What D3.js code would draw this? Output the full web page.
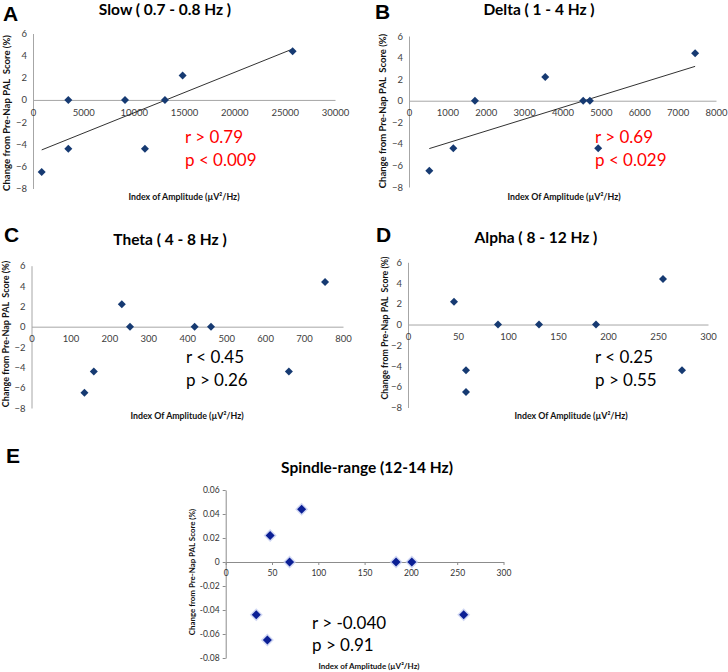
<!DOCTYPE html>
<html><head><meta charset="utf-8">
<script src="https://cdn.jsdelivr.net/npm/d3@7"></script>
<style>
html,body{margin:0;padding:0;background:#fff;}
svg{display:block;}
text{white-space:pre;}
</style></head>
<body>
<svg id="chart" width="728" height="672"></svg>
<script>
// ---------- data ----------
const slowX  = [864, 3510, 3510, 9136, 11122, 13108, 14866, 25790];
const slowY  = [-6.5, -4.4, 0, 0, -4.4, 0, 2.2, 4.4];
const deltaX = [529, 1154, 1719, 3550, 4539, 4714, 4930, 7456];
const deltaY = [-6.5, -4.4, 0, 2.2, 0, 0, -4.4, 4.4];
const thetaX = [136, 160, 232, 253, 419, 461, 661, 754];
const thetaY = [-6.5, -4.4, 2.2, 0, 0, 0, -4.4, 4.4];
const alphaX = [46, 58, 58, 90, 131, 188, 255, 274];
const alphaY = [2.2, -4.4, -6.5, 0, 0, 0, 4.4, -4.4];
const spindleX = [33, 45, 48, 69, 82, 184, 201, 257];
const spindleY = [-0.044, -0.065, 0.022, 0, 0.044, 0, 0, -0.044];

const yTicksPct = [-8, -6, -4, -2, 0, 2, 4, 6];
const slowTicks = [0, 5000, 10000, 15000, 20000, 25000, 30000];
const deltaTicks = [0, 1000, 2000, 3000, 4000, 5000, 6000, 7000, 8000];
const thetaTicks = [0, 100, 200, 300, 400, 500, 600, 700, 800];
const alphaTicks = [0, 50, 100, 150, 200, 250, 300];
const spindleXTicks = [0, 50, 100, 150, 200, 250, 300];
const spindleYTicks = [-0.08, -0.06, -0.04, -0.02, 0, 0.02, 0.04, 0.06];
const spindleYLabels = ["-0.08", "-0.06", "-0.04", "-0.02", "0", "0.02", "0.04", "0.06"];

const titles = ["Slow ( 0.7 - 0.8 Hz )", "Delta ( 1 - 4 Hz )", "Theta ( 4 - 8 Hz )", "Alpha ( 8 - 12 Hz )", "Spindle-range (12-14 Hz)"];
const letters = ["A", "B", "C", "D", "E"];
const stats = [["r > 0.79", "p < 0.009"], ["r > 0.69", "p < 0.029"], ["r < 0.45", "p > 0.26"], ["r < 0.25", "p > 0.55"], ["r > -0.040", "p > 0.91"]];
const yLabelText = "Change from Pre-Nap PAL  Score (%)";
const xLabels = ["Index of Amplitude (µV²/Hz)", "Index Of Amplitude (µV²/Hz)", "Index Of Amplitude (µV²/Hz)", "Index Of Amplitude (µV²/Hz)", "Index of Amplitude (µV²/Hz)"];

const svg = d3.select("#chart");
const FONT = "Lato, 'Open Sans', sans-serif";

function diamond(r) { return `M0,${-r}L${r},0L0,${r}L${-r},0Z`; }

function panel(o) {
  const g = svg.append("g");
  const x = d3.scaleLinear().domain(o.xDomain).range(o.xRange);
  const y = d3.scaleLinear().domain(o.yDomain).range(o.yRange);

  // y axis
  const ya = g.append("g").attr("transform", `translate(${x(0)},0)`)
    .call(d3.axisLeft(y).tickValues(o.yTicks).tickFormat((d, i) => o.yFmt ? o.yFmt[i] : d3.format("d")(d))
      .tickSizeInner(o.tick || 0).tickSizeOuter(0).tickPadding(o.yPad));
  // x axis at zero
  const xa = g.append("g").attr("transform", `translate(0,${y(0)})`)
    .call(d3.axisBottom(x).tickValues(o.xTicks).tickFormat(d3.format("d"))
      .tickSizeInner(o.tick || 0).tickSizeOuter(0).tickPadding(o.xPad));
  [ya, xa].forEach(a => {
    a.select(".domain").attr("stroke", o.axisColor).attr("stroke-width", 1);
    a.selectAll(".tick line").attr("stroke", o.axisColor);
    a.selectAll("text").attr("font-family", o.tickFont).attr("font-size", o.tickSize).attr("fill", o.tickColor);
  });

  // trendline (least squares fit of the data)
  if (o.trend) {
    const mx = d3.mean(o.xs), my = d3.mean(o.ys);
    const sxy = d3.sum(o.xs, (v, i) => (v - mx) * (o.ys[i] - my));
    const sxx = d3.sum(o.xs, v => (v - mx) * (v - mx));
    const b = sxy / sxx, a = my - b * mx;
    const ext = d3.extent(o.xs);
    g.append("line")
      .attr("x1", x(ext[0])).attr("y1", y(a + b * ext[0]))
      .attr("x2", x(ext[1])).attr("y2", y(a + b * ext[1]))
      .attr("stroke", "#1a1a1a").attr("stroke-width", 0.9);
  }

  // markers
  const pts = o.xs.map((v, i) => [v, o.ys[i]]);
  if (o.glow) {
    g.selectAll(".glow").data(pts).join("path").attr("class", "glow")
      .attr("transform", d => `translate(${x(d[0])},${y(d[1])})`)
      .attr("d", diamond(o.r + 2)).attr("fill", "#c4cdf0").attr("opacity", 0.8);
  }
  g.selectAll(".pt").data(pts).join("path").attr("class", "pt")
    .attr("transform", d => `translate(${x(d[0])},${y(d[1])})`)
    .attr("d", diamond(o.r)).attr("fill", o.color);

  // titles
  svg.append("text").attr("x", o.letterPos[0]).attr("y", o.letterPos[1])
    .attr("font-family", "Arial, 'Liberation Sans', sans-serif").attr("font-weight", "bold")
    .attr("font-size", 21).attr("fill", "#000").text(o.letter);
  svg.append("text").attr("x", o.titlePos[0]).attr("y", o.titlePos[1]).attr("text-anchor", "middle")
    .attr("font-family", FONT).attr("font-weight", "bold").attr("font-size", o.titleSize)
    .attr("fill", "#000").text(o.title);

  // axis labels
  svg.append("text").attr("transform", `translate(${o.yLabelPos[0]},${o.yLabelPos[1]}) rotate(-90)`)
    .attr("text-anchor", "middle").attr("font-family", FONT).attr("font-weight", "bold")
    .attr("font-size", o.yLabelSize).attr("fill", "#111").text(o.yLabel);
  svg.append("text").attr("x", o.xLabelPos[0]).attr("y", o.xLabelPos[1]).attr("text-anchor", "middle")
    .attr("font-family", FONT).attr("font-weight", "bold").attr("font-size", o.xLabelSize)
    .attr("fill", "#111").text(o.xLabel);

  // stats
  o.stats.forEach((s, i) => {
    svg.append("text").attr("x", o.statPos[0]).attr("y", o.statPos[1] + i * o.statGap)
      .attr("font-family", FONT).attr("font-size", o.statSize).attr("fill", o.statColor).text(s);
  });
}

const common = {
  yDomain: [-8, 6], yTicks: yTicksPct, axisColor: "#a6a6a6",
  tickFont: FONT, tickSize: 9.5, tickColor: "#404040", yPad: 6, xPad: 9,
  r: 4, color: "#163a72", titleSize: 15.5, yLabelSize: 8.6, xLabelSize: 8.8,
  statSize: 17, statGap: 22.5, yLabel: yLabelText
};

panel(Object.assign({}, common, {
  xs: slowX, ys: slowY, xDomain: [0, 30000], xRange: [33, 335], yRange: [188.5, 33.5], xTicks: slowTicks,
  trend: true, letter: letters[0], letterPos: [3, 21], title: titles[0], titlePos: [165, 15],
  yLabelPos: [9.5, 113], yLabelSize: 9.6, xLabel: xLabels[0], xLabelPos: [184, 200],
  stats: stats[0], statPos: [185, 143], statColor: "#ff0000"
}));
panel(Object.assign({}, common, {
  xs: deltaX, ys: deltaY, xDomain: [0, 8000], xRange: [409, 716], yRange: [187, 36], xTicks: deltaTicks,
  trend: true, letter: letters[1], letterPos: [375, 19], title: titles[1], titlePos: [539, 15],
  yLabelPos: [386, 111], yLabelSize: 9.5, xLabel: xLabels[1], xLabelPos: [564, 200],
  stats: stats[1], statPos: [595, 143], statColor: "#ff0000"
}));
panel(Object.assign({}, common, {
  xs: thetaX, ys: thetaY, xDomain: [0, 800], xRange: [31.5, 343], yRange: [408, 265.7], xTicks: thetaTicks,
  trend: false, letter: letters[2], letterPos: [4, 242], title: titles[2], titlePos: [170, 245],
  yLabelPos: [9, 334], yLabelSize: 9.0, xLabel: xLabels[2], xLabelPos: [187, 419],
  stats: stats[2], statPos: [186, 363], statColor: "#000"
}));
panel(Object.assign({}, common, {
  xs: alphaX, ys: alphaY, xDomain: [0, 300], xRange: [408, 708], yRange: [407.5, 262.3], xTicks: alphaTicks,
  trend: false, letter: letters[3], letterPos: [376, 242], title: titles[3], titlePos: [536, 243],
  yLabelPos: [388, 328], yLabelSize: 8.8, xLabel: xLabels[3], xLabelPos: [571, 419],
  stats: stats[3], statPos: [595, 363], statColor: "#000"
}));
panel(Object.assign({}, common, {
  xs: spindleX, ys: spindleY, xDomain: [0, 300], xRange: [225.7, 503.5], yDomain: [-0.08, 0.06], yRange: [658, 490],
  xTicks: spindleXTicks, yTicks: spindleYTicks, yFmt: spindleYLabels, tick: 3, yPad: 3, xPad: 5,
  axisColor: "#8c8c8c", tickColor: "#333", tickSize: 8.5,
  trend: false, r: 4.5, glow: true, color: "#0b1f95", letter: letters[4], letterPos: [6, 463],
  title: titles[4], titlePos: [367, 473], titleSize: 15.5,
  yLabel: "Change from Pre-Nap PAL Score (%)", yLabelPos: [195, 572], yLabelSize: 7.9,
  xLabel: xLabels[4], xLabelPos: [369, 669], xLabelSize: 8,
  stats: stats[4], statPos: [312, 629], statColor: "#000", statGap: 21.7
}));
</script>
</body></html>
